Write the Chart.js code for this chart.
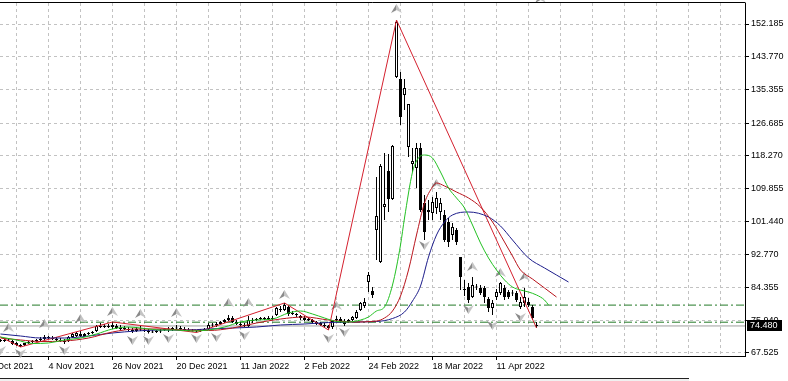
<!DOCTYPE html>
<html>
<head>
<meta charset="utf-8">
<script src="https://cdn.jsdelivr.net/npm/chart.js@4.4.1/dist/chart.umd.min.js"></script>
<style>
  html, body { margin: 0; padding: 0; background: #fff; }
  #wrap { position: relative; width: 788px; height: 381px; overflow: hidden; }
  #tabbar { position: absolute; left: 0; top: 378px; width: 689px; height: 3px;
            border-top: 1px solid #222; background: #f0f0f0; }
</style>
</head>
<body>
<div id="wrap">
  <canvas id="chart" width="788" height="381"></canvas>
  <div id="tabbar"></div>
</div>
<script>
// ── 축 눈금 ───────────────────────────────────────────────
const xLabelBars  = [-4, 12, 28, 44, 60, 76, 92, 108, 124];
const xLabelTexts = ["13 Oct 2021", "4 Nov 2021", "26 Nov 2021", "20 Dec 2021", "11 Jan 2022",
                     "2 Feb 2022", "24 Feb 2022", "18 Mar 2022", "11 Apr 2022"];
const gridBars = [-4, 4, 12, 20, 28, 36, 44, 52, 60, 68, 76, 84, 92, 100, 108, 116,
                  124, 132, 140, 148, 156, 164, 172, 180];
const yTicks = [67.525, 75.94, 84.355, 92.77, 101.44, 109.855, 118.27, 126.685, 135.355, 143.77, 152.185];

// ── 일봉 OHLC (bar 0 = 19 Oct 2021) ───────────────────────
const openP = [
  70.87, 70.61, 70.87, 70.61, 70.10, 69.58, 69.58, 70.10, 70.35, 70.61,
  70.87, 71.13, 71.64, 71.38, 71.13, 70.87, 70.61, 70.61, 71.64, 71.90,
  72.41, 71.90, 72.41, 72.67, 73.18, 74.47, 74.21, 74.47, 74.21, 74.47,
  73.95, 73.95, 73.70, 73.44, 73.18, 73.70, 73.44, 73.18, 73.06, 72.93,
  73.18, 73.44, 73.70, 73.70, 73.83, 73.95, 73.70, 73.44, 73.18, 73.06,
  73.18, 73.44, 73.70, 74.73, 74.60, 74.98, 75.50, 76.01, 76.53, 75.50,
  74.98, 74.73, 74.47, 75.76, 76.01, 76.27, 76.27, 76.53, 76.27, 77.30,
  78.84, 78.59, 79.36, 77.56, 77.56, 77.04, 76.53, 76.27, 76.01, 75.50,
  75.24, 74.73, 74.47, 74.21, 76.01, 76.27, 75.76, 75.50, 76.01, 76.53,
  78.59, 79.62, 85.79, 83.48, 99.17, 90.94, 105.09, 114.36, 107.15, 138.55,
  138.03, 133.91, 120.53, 116.16, 115.13, 120.28, 106.12, 103.81, 103.55, 104.84,
  103.81, 103.04, 101.24, 97.89, 99.17, 92.22, 83.99, 84.51, 81.93, 84.51,
  84.25, 84.25, 81.42, 79.10, 81.93, 82.96, 84.25, 83.22, 82.96, 82.96,
  79.36, 80.39, 80.65, 79.36, 74.73,
];
const highP = [
  71.13, 71.13, 71.38, 70.87, 70.35, 69.84, 70.10, 70.61, 70.87, 71.13,
  71.64, 72.15, 71.90, 71.90, 71.64, 71.38, 71.13, 71.90, 72.67, 72.93,
  73.18, 72.67, 72.93, 73.18, 74.73, 75.24, 74.98, 74.98, 75.50, 74.98,
  74.73, 74.47, 74.21, 73.95, 74.21, 74.47, 73.95, 73.70, 73.44, 73.44,
  73.70, 73.95, 74.21, 74.21, 74.73, 74.47, 74.21, 73.95, 73.70, 73.44,
  73.70, 73.95, 75.24, 75.24, 75.50, 75.76, 76.27, 77.30, 77.04, 76.01,
  75.50, 75.24, 77.04, 76.53, 76.53, 76.79, 76.79, 77.04, 77.04, 79.36,
  79.62, 80.39, 79.87, 78.33, 77.82, 77.30, 77.04, 76.53, 76.27, 75.76,
  75.50, 75.24, 74.73, 76.01, 77.04, 76.79, 76.27, 76.27, 77.04, 78.59,
  80.65, 81.68, 88.36, 84.51, 112.82, 116.16, 118.99, 118.73, 121.05, 153.21,
  139.83, 138.03, 131.60, 120.28, 121.56, 121.56, 108.18, 106.89, 107.67, 108.95,
  107.41, 104.32, 102.26, 100.98, 99.69, 92.22, 86.31, 85.53, 87.08, 85.28,
  85.02, 84.76, 81.93, 81.16, 83.99, 85.79, 85.02, 83.73, 83.73, 83.48,
  81.93, 84.25, 81.68, 79.87, 75.50,
];
const lowP = [
  70.35, 70.35, 70.61, 69.58, 69.33, 69.07, 69.33, 69.84, 70.10, 70.35,
  70.61, 70.87, 71.13, 70.87, 70.61, 70.35, 69.84, 70.35, 71.38, 71.64,
  71.64, 71.64, 72.15, 72.41, 72.93, 73.95, 73.95, 73.95, 73.70, 73.70,
  73.44, 73.44, 73.18, 72.67, 72.93, 73.18, 72.93, 72.54, 72.67, 72.67,
  72.67, 73.18, 72.93, 73.18, 73.44, 73.44, 73.18, 72.93, 73.06, 72.80,
  72.93, 73.18, 73.44, 74.21, 74.21, 74.73, 75.24, 75.76, 75.24, 74.73,
  74.47, 74.08, 74.21, 75.24, 75.76, 76.01, 76.01, 76.01, 76.01, 77.04,
  78.07, 78.33, 77.04, 77.30, 76.79, 76.01, 75.76, 75.76, 75.24, 74.73,
  74.47, 73.95, 73.44, 73.70, 75.50, 75.24, 74.47, 75.24, 75.76, 76.27,
  78.33, 79.10, 83.22, 81.68, 91.45, 90.68, 101.75, 103.81, 106.89, 138.29,
  126.19, 130.05, 117.96, 114.10, 109.98, 103.81, 96.60, 101.75, 101.75, 103.29,
  101.75, 96.09, 94.80, 96.60, 95.31, 83.73, 82.19, 80.39, 81.68, 83.73,
  82.45, 80.39, 78.07, 77.30, 81.16, 82.45, 81.16, 81.42, 82.19, 80.65,
  78.84, 79.36, 79.36, 76.01, 73.95,
];
const closeP = [
  70.61, 70.87, 70.74, 69.84, 69.58, 69.33, 70.10, 70.35, 70.61, 70.87,
  71.13, 71.64, 71.38, 71.13, 70.87, 70.61, 70.35, 71.64, 72.41, 72.67,
  71.90, 72.41, 72.67, 72.93, 74.47, 74.21, 74.47, 74.21, 74.73, 73.95,
  73.70, 73.70, 73.44, 73.18, 73.70, 73.57, 73.18, 72.93, 72.80, 73.18,
  73.06, 73.70, 73.57, 73.95, 73.95, 73.70, 73.44, 73.18, 73.06, 73.18,
  73.44, 73.70, 74.73, 74.60, 74.98, 75.50, 76.01, 76.53, 75.50, 74.98,
  74.73, 74.47, 76.01, 76.01, 76.27, 76.40, 76.53, 76.27, 76.53, 79.10,
  78.59, 79.87, 77.56, 77.82, 77.30, 76.53, 76.01, 75.89, 75.50, 74.98,
  74.73, 74.47, 73.95, 75.76, 76.27, 75.76, 74.98, 76.01, 76.79, 78.07,
  80.39, 80.65, 87.59, 82.45, 102.78, 115.64, 105.86, 107.15, 120.79, 152.70,
  128.25, 135.72, 131.60, 116.93, 120.28, 104.32, 98.66, 104.32, 106.38, 107.41,
  106.12, 96.60, 96.09, 99.95, 96.09, 87.08, 83.73, 81.16, 85.02, 84.38,
  82.96, 81.93, 79.10, 80.39, 83.22, 85.53, 81.93, 81.93, 82.83, 81.16,
  80.65, 81.93, 79.87, 76.53, 74.48,
];

// ── Alligator (Jaw / Teeth / Lips) ───────────────────────
const jawBars = [0, 5, 10, 16, 22, 28, 34, 40, 46, 52, 58, 64, 70, 76, 82, 88, 94, 98, 101,
                 103, 105, 107, 109, 111, 113, 117, 122, 125, 128, 132, 136, 139, 142];
const jawVals = [72.41, 71.90, 71.38, 71.38, 71.90, 72.67, 73.18, 73.44, 73.44, 73.70, 73.95,
                 74.21, 74.73, 74.98, 75.37, 75.50, 75.63, 76.40, 78.07, 80.90, 84.76, 92.22,
                 97.89, 101.24, 103.04, 103.81, 102.52, 100.20, 96.60, 91.97, 89.40, 87.59, 85.79];

const teethBars = [0, 5, 10, 16, 22, 28, 34, 40, 46, 52, 58, 64, 70, 76, 82, 88, 94, 96, 98,
                   100, 102, 104, 106, 108, 109, 111, 114, 117, 120, 123, 126, 128, 130, 133, 136, 139];
const teethVals = [71.38, 70.87, 70.48, 70.61, 71.38, 72.93, 73.70, 73.70, 73.44, 73.31, 73.95,
                   75.24, 76.27, 76.79, 76.01, 75.50, 75.76, 76.53, 78.33, 82.19, 88.88, 97.89,
                   106.12, 110.24, 111.27, 110.50, 108.95, 107.41, 105.09, 101.24, 96.09, 92.48,
                   88.88, 86.56, 84.25, 81.93];

const lipsBars = [0, 4, 8, 12, 16, 20, 24, 28, 32, 36, 40, 44, 48, 52, 56, 60, 64, 68, 72, 75,
                  78, 81, 84, 87, 90, 92, 94, 96, 98, 100, 101, 103, 104, 105, 106, 108, 110,
                  112, 114, 116, 118, 120, 122, 124, 126, 128, 130, 132, 134, 136, 137];
const lipsVals = [71.64, 70.87, 69.97, 70.10, 70.87, 71.38, 72.41, 73.70, 74.21, 73.83, 73.44,
                  73.44, 73.18, 73.44, 74.21, 75.50, 76.01, 76.27, 77.82, 78.33, 77.56, 76.53,
                  75.63, 75.50, 76.01, 76.79, 78.33, 79.36, 85.02, 95.31, 102.26, 114.10, 116.93,
                  118.22, 118.47, 117.70, 114.10, 109.98, 107.41, 104.84, 100.46, 95.83, 91.97,
                  88.88, 86.31, 84.51, 83.73, 83.22, 82.45, 81.16, 79.87];

// ── ZigZag / Fractals / 수평선 ────────────────────────────
const zigBars = [-5, 5, 28, 49, 71, 82, 99, 134];
const zigVals = [74.20, 69.07, 75.50, 72.80, 80.39, 73.44, 153.21, 73.95];

const fracUpBars = [2, 11, 20, 28, 35, 44, 57, 62, 71, 84, 99, 109, 118, 125, 131, 135];
const fracUpVals = [73.95, 74.98, 76.27, 78.07, 77.56, 77.82, 80.39, 80.39, 82.45, 79.62,
                    156.04, 111.01, 89.65, 88.11, 87.08, 158.62];
const fracDnBars = [0, 5, 16, 33, 37, 42, 49, 54, 61, 82, 86, 106, 117, 123, 130];
const fracDnVals = [68.30, 67.52, 68.30, 70.87, 70.87, 71.38, 71.38, 71.64, 72.15, 71.38,
                    72.93, 95.31, 78.84, 74.73, 76.79];

const levelPrices = [79.85, 75.45];
const bidPrice = 74.48;

// ── 스케일 범위 ───────────────────────────────────────────
const X_MIN = -0.125, X_MAX = 186.125;
const Y_MIN = 66.75,  Y_MAX = 157.59;
const FONT = "Liberation Sans";

// ── 프랙탈 화살표 아이콘 ──────────────────────────────────
function makeArrow(up) {
  const c = document.createElement("canvas");
  c.width = 11; c.height = 10;
  const g = c.getContext("2d");
  const tip = up ? 0 : 10, base = up ? 9 : 1, notch = up ? 6 : 4;
  g.fillStyle = "#8a8a8a";
  g.beginPath(); g.moveTo(5.5, tip); g.lineTo(0, base); g.lineTo(5.5, notch); g.closePath(); g.fill();
  g.fillStyle = "#c4c4c4";
  g.beginPath(); g.moveTo(5.5, tip); g.lineTo(11, base); g.lineTo(5.5, notch); g.closePath(); g.fill();
  return c;
}

const pts = (xs, ys) => xs.map((x, i) => ({ x, y: ys[i] }));
const idx = openP.map((_, i) => i);

// ── 플러그인: 상단 테두리 + 현재가 라벨 ───────────────────
const framePlugin = {
  id: "frame",
  afterDraw(chart) {
    const { ctx, chartArea: a } = chart;
    ctx.save();
    ctx.strokeStyle = "#000";
    ctx.lineWidth = 1;
    ctx.beginPath();
    ctx.moveTo(a.left, a.top - 0.5);
    ctx.lineTo(a.right + 0.5, a.top - 0.5);
    ctx.stroke();

    const y = Math.round(chart.scales.y.getPixelForValue(bidPrice));
    ctx.fillStyle = "#000";
    ctx.fillRect(a.right + 2, y - 6, 35, 11);
    ctx.fillStyle = "#fff";
    ctx.font = `9px "${FONT}"`;
    ctx.textBaseline = "middle";
    ctx.fillText(bidPrice.toFixed(3), a.right + 5, y);
    ctx.restore();
  },
};

const lineDs = (label, data, color, extra) => Object.assign({
  type: "line", label, data, borderColor: color, borderWidth: 1,
  pointRadius: 0, fill: false, order: 0,
}, extra || {});

new Chart(document.getElementById("chart"), {
  type: "bar",
  data: {
    datasets: [
      // 봉 몸통
      {
        label: "body",
        data: idx.map(i => ({ x: i, y: [openP[i], closeP[i]] })),
        backgroundColor: idx.map(i => closeP[i] >= openP[i] ? "#ffffff" : "#000000"),
        borderColor: "#000", borderWidth: 1, borderSkipped: false,
        barThickness: 3, minBarLength: 1, grouped: false, inflateAmount: 0, order: 1,
      },
      // 꼬리
      {
        label: "wick",
        data: idx.map(i => ({ x: i, y: [lowP[i], highP[i]] })),
        backgroundColor: "#000", borderWidth: 0,
        barThickness: 1, minBarLength: 1, grouped: false, inflateAmount: 0, order: 2,
      },
      lineDs("lips",  pts(lipsBars, lipsVals),   "#22c022", { cubicInterpolationMode: "monotone" }),
      lineDs("teeth", pts(teethBars, teethVals), "#b8141c", { cubicInterpolationMode: "monotone" }),
      lineDs("jaw",   pts(jawBars, jawVals),     "#1c1c8a", { cubicInterpolationMode: "monotone" }),
      lineDs("zigzag", pts(zigBars, zigVals),    "#d4202e", { tension: 0 }),
      ...levelPrices.map(p => lineDs("level", [{ x: X_MIN, y: p }, { x: X_MAX, y: p }], "#237a27",
        { borderDash: [8, 3, 2, 3], order: 3 })),
      lineDs("bid", [{ x: X_MIN, y: bidPrice }, { x: X_MAX, y: bidPrice }], "#a0a0a0", { order: 3 }),
      {
        type: "line", label: "fracUp", data: pts(fracUpBars, fracUpVals), showLine: false,
        pointStyle: makeArrow(true), pointRadius: 5, clip: false, order: 0,
      },
      {
        type: "line", label: "fracDn", data: pts(fracDnBars, fracDnVals), showLine: false,
        pointStyle: makeArrow(false), pointRadius: 5, clip: false, order: 0,
      },
    ],
  },
  options: {
    responsive: false,
    animation: false,
    events: [],
    layout: { autoPadding: false, padding: { top: 3, left: 0, right: 0, bottom: 0 } },
    plugins: { legend: { display: false }, tooltip: { enabled: false } },
    scales: {
      x: {
        type: "linear", position: "bottom", min: X_MIN, max: X_MAX, offset: false, bounds: "data",
        afterBuildTicks: s => { s.ticks = gridBars.map(v => ({ value: v })); },
        afterFit: s => { s.paddingLeft = 0; s.paddingRight = 0; s.height = 25; },
        ticks: {
          autoSkip: false, maxRotation: 0, minRotation: 0, align: "start", padding: 1,
          color: "#000", font: { family: FONT, size: 9 },
          callback: v => { const k = xLabelBars.indexOf(v); return k >= 0 ? xLabelTexts[k] : ""; },
        },
        grid: {
          color: "#c2c2c2", lineWidth: 1, tickLength: 4, offset: false, tickBorderDash: [],
          tickColor: c => (c.tick && xLabelBars.includes(c.tick.value)) ? "#000" : "rgba(0,0,0,0)",
        },
        border: { display: true, color: "#000", width: 1, dash: [3, 3] },
      },
      y: {
        type: "linear", position: "right", min: Y_MIN, max: Y_MAX, bounds: "data",
        afterBuildTicks: s => { s.ticks = yTicks.map(v => ({ value: v })); },
        afterFit: s => { s.width = 43; s.paddingTop = 0; s.paddingBottom = 0; },
        ticks: {
          padding: 2, color: "#000", font: { family: FONT, size: 9 },
          callback: v => v.toFixed(3),
        },
        grid: { color: "#c2c2c2", lineWidth: 1, tickLength: 4, tickColor: "#000", tickBorderDash: [] },
        border: { display: true, color: "#000", width: 1, dash: [3, 3] },
      },
    },
  },
  plugins: [framePlugin],
});
</script>
</body>
</html>
